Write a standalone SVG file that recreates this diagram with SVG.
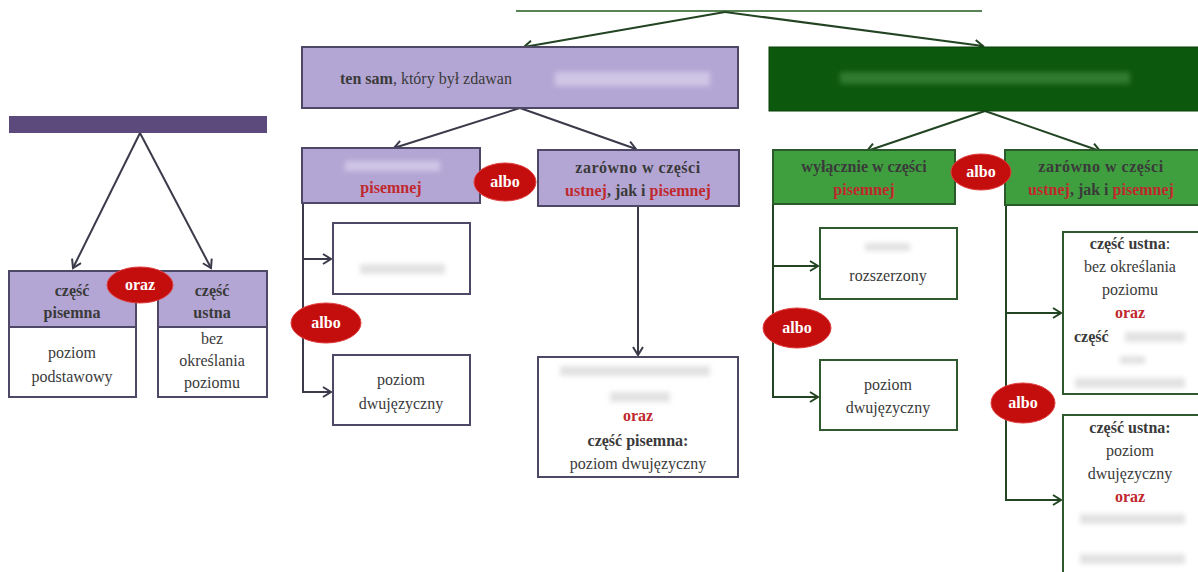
<svg xmlns="http://www.w3.org/2000/svg" width="1198" height="572" viewBox="0 0 1198 572">
<defs>
<marker id="ap" markerWidth="12" markerHeight="12" refX="9" refY="6" orient="auto" markerUnits="userSpaceOnUse">
<polyline points="1,1 9,6 1,11" fill="none" stroke="#3a3a4a" stroke-width="2"/>
</marker>
<marker id="ag" markerWidth="12" markerHeight="12" refX="9" refY="6" orient="auto" markerUnits="userSpaceOnUse">
<polyline points="1,1 9,6 1,11" fill="none" stroke="#224422" stroke-width="2"/>
</marker>
<filter id="bl" x="-20%" y="-50%" width="140%" height="200%"><feGaussianBlur stdDeviation="2.5"/></filter>
</defs>
<style>
text{font-family:"Liberation Serif","Times New Roman","DejaVu Serif",serif;font-size:16px;fill:#3a3a3a;text-anchor:middle}
.b{font-weight:bold}
.r{fill:#c0282d;font-weight:bold}
.w{fill:#fff;font-weight:bold}
.pu{fill:#b4a6d4;stroke:#4e4866;stroke-width:2}
.wh{fill:#fff;stroke:#4e4866;stroke-width:2}
.gm{fill:#3f9f3f;stroke:#2a5a2a;stroke-width:2}
.gw{fill:#fff;stroke:#2f5a2f;stroke-width:2}
.el{fill:#c40d0d;stroke:#e04040;stroke-width:1}
.lp{fill:none;stroke:#3a3a4a;stroke-width:2}
.lg{fill:none;stroke:#224422;stroke-width:2}
.sm{fill:#e2e2e2;filter:url(#bl)}
.smp{fill:#cfc6e6;filter:url(#bl)}
.smg{fill:#2f7a2f;filter:url(#bl)}
</style>

<g id="connectors">
<path class="lp" d="M140,133 L73,268" marker-end="url(#ap)"/>
<path class="lp" d="M140,133 L211,268" marker-end="url(#ap)"/>
<line x1="516" y1="11" x2="982" y2="11" stroke="#1f5a1f" stroke-width="1.5"/>
<path class="lg" d="M725,12 L524,47" marker-end="url(#ag)"/>
<path class="lg" d="M725,12 L983,46" marker-end="url(#ag)"/>
<path class="lp" d="M520,108 L394,148" marker-end="url(#ap)"/>
<path class="lp" d="M520,108 L636,149" marker-end="url(#ap)"/>
<path class="lg" d="M985,111 L867,151" marker-end="url(#ag)"/>
<path class="lg" d="M985,111 L1100,151" marker-end="url(#ag)"/>
<path class="lp" d="M303,203 L303,392 L331,392" marker-end="url(#ap)"/>
<path class="lp" d="M303,259 L331,259" marker-end="url(#ap)"/>
<path class="lp" d="M638,206 L638,355" marker-end="url(#ap)"/>
<path class="lg" d="M773,204 L773,397 L818,397" marker-end="url(#ag)"/>
<path class="lg" d="M773,266 L818,266" marker-end="url(#ag)"/>
<path class="lg" d="M1006,205 L1006,500 L1061,500" marker-end="url(#ag)"/>
<path class="lg" d="M1006,313 L1061,313" marker-end="url(#ag)"/>
</g>

<g id="left-bar"><rect x="9" y="116" width="258" height="17" fill="#5c4a7c"/></g>

<g id="left-pisemna">
<rect class="pu" x="9" y="271" width="127" height="56"/>
<text class="b" x="72" y="296">część</text>
<text class="b" x="72" y="318">pisemna</text>
<rect class="wh" x="9" y="327" width="127" height="70"/>
<text x="72" y="358">poziom</text>
<text x="72" y="382">podstawowy</text>
</g>
<g id="left-ustna">
<rect class="pu" x="158" y="271" width="109" height="56"/>
<text class="b" x="212" y="296">część</text>
<text class="b" x="212" y="318">ustna</text>
<rect class="wh" x="158" y="327" width="109" height="70"/>
<text x="212" y="344">bez</text>
<text x="212" y="366">określania</text>
<text x="212" y="388">poziomu</text>
</g>
<g id="left-oraz"><ellipse class="el" cx="140" cy="285" rx="33" ry="18"/><text class="w" x="140" y="290">oraz</text></g>

<g id="ten-sam">
<rect class="pu" x="302" y="47" width="436" height="61"/>
<text x="340" y="84" style="text-anchor:start"><tspan class="b">ten sam</tspan>, który był zdawan</text>
<rect class="smp" x="555" y="72" width="155" height="14"/>
</g>
<g id="green-top">
<rect x="769" y="47" width="440" height="64" fill="#0c580c" stroke="#0a3f0a" stroke-width="1"/>
<rect class="smg" x="840" y="72" width="290" height="12"/>
</g>

<g id="p-pisemnej">
<rect class="pu" x="302" y="148" width="178" height="55"/>
<rect class="smp" x="345" y="161" width="95" height="10"/>
<text class="r" x="391" y="193">pisemnej</text>
</g>
<g id="p-zarowno">
<rect class="pu" x="538" y="150" width="201" height="56"/>
<text class="b" x="638" y="173" letter-spacing="0.5">zarówno w części</text>
<text class="b" x="638" y="196"><tspan class="r">ustnej</tspan>, jak i <tspan class="r">pisemnej</tspan></text>
</g>
<g id="p-albo1"><ellipse class="el" cx="505" cy="182" rx="31" ry="19"/><text class="w" x="505" y="187">albo</text></g>

<g id="p-box1">
<rect class="wh" x="333" y="223" width="137" height="71"/>
<rect class="sm" x="360" y="264" width="85" height="10"/>
</g>
<g id="p-box2">
<rect class="wh" x="333" y="355" width="137" height="70"/>
<text x="401" y="385">poziom</text>
<text x="401" y="409">dwujęzyczny</text>
</g>
<g id="p-albo2"><ellipse class="el" cx="326" cy="323" rx="35" ry="20"/><text class="w" x="326" y="328">albo</text></g>

<g id="p-box3">
<rect class="wh" x="538" y="357" width="200" height="120"/>
<rect class="sm" x="560" y="366" width="150" height="10"/>
<rect class="sm" x="610" y="392" width="60" height="10"/>
<text class="r" x="638" y="421">oraz</text>
<text class="b" x="638" y="446">część pisemna:</text>
<text x="638" y="469">poziom dwujęzyczny</text>
</g>

<g id="g-wylacznie">
<rect class="gm" x="773" y="150" width="182" height="54"/>
<text class="b" x="864" y="172">wyłącznie w części</text>
<text class="r" x="864" y="195">pisemnej</text>
</g>
<g id="g-zarowno">
<rect class="gm" x="1005" y="150" width="200" height="55"/>
<text class="b" x="1101" y="172" letter-spacing="0.5">zarówno w części</text>
<text class="b" x="1101" y="195"><tspan class="r">ustnej</tspan>, jak i <tspan class="r">pisemnej</tspan></text>
</g>
<g id="g-albo1"><ellipse class="el" cx="981" cy="172" rx="30" ry="18"/><text class="w" x="981" y="177">albo</text></g>

<g id="g-box1">
<rect class="gw" x="820" y="228" width="137" height="71"/>
<rect class="sm" x="865" y="243" width="45" height="8"/>
<text x="888" y="281">rozszerzony</text>
</g>
<g id="g-box2">
<rect class="gw" x="820" y="360" width="137" height="70"/>
<text x="888" y="390">poziom</text>
<text x="888" y="413">dwujęzyczny</text>
</g>
<g id="g-albo2"><ellipse class="el" cx="797" cy="328" rx="34" ry="20"/><text class="w" x="797" y="333">albo</text></g>

<g id="g-box3">
<rect class="gw" x="1063" y="232" width="145" height="162"/>
<text class="b" x="1130" y="249">część ustna<tspan style="font-weight:normal">:</tspan></text>
<text x="1130" y="272">bez określania</text>
<text x="1130" y="295">poziomu</text>
<text class="r" x="1130" y="318">oraz</text>
<text class="b" x="1074" y="342" style="text-anchor:start">część</text>
<rect class="sm" x="1125" y="332" width="60" height="10"/>
<rect class="sm" x="1120" y="356" width="25" height="8"/>
<rect class="sm" x="1075" y="378" width="110" height="10"/>
</g>
<g id="g-albo3"><ellipse class="el" cx="1023" cy="403" rx="32" ry="20"/><text class="w" x="1023" y="408">albo</text></g>

<g id="g-box4">
<rect class="gw" x="1063" y="415" width="145" height="170"/>
<text class="b" x="1130" y="433">część ustna:</text>
<text x="1130" y="456">poziom</text>
<text x="1130" y="479">dwujęzyczny</text>
<text class="r" x="1130" y="502">oraz</text>
<rect class="sm" x="1080" y="514" width="105" height="10"/>
<rect class="sm" x="1080" y="554" width="105" height="10"/>
</g>
</svg>
